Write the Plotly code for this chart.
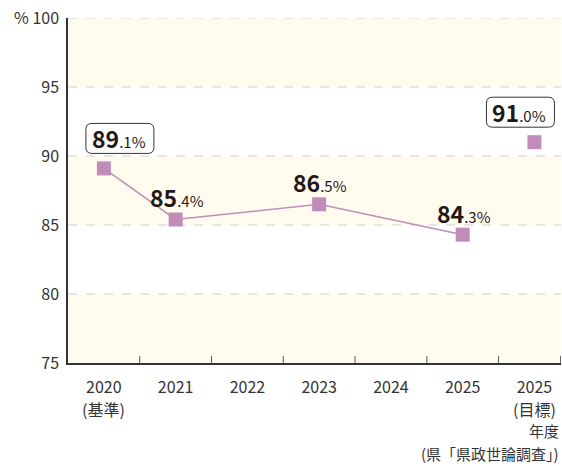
import plotly.graph_objects as go

categories = ["2020", "2021", "2022", "2023", "2024", "2025", "2025"]
category_notes = ["(基準)", "", "", "", "", "", "(目標)"]
actual_idx = [0, 1, 3, 5]
actual_vals = [89.1, 85.4, 86.5, 84.3]
target_idx = [6]
target_vals = [91.0]
y_ticks = [75, 80, 85, 90, 95, 100]
y_ticktext = ["75", "80", "85", "90", "95", "% 100"]

MARK = "#bf8db8"
BAND = "#fffcef"
FONT = "Noto Sans CJK JP"

fig = go.Figure()

fig.add_trace(go.Scatter(
    x=actual_idx, y=actual_vals, mode="lines+markers",
    line=dict(color=MARK, width=1.5),
    marker=dict(symbol="square", size=14, color=MARK),
    hoverinfo="skip", showlegend=False))
fig.add_trace(go.Scatter(
    x=target_idx, y=target_vals, mode="markers",
    marker=dict(symbol="square", size=14, color=MARK),
    hoverinfo="skip", showlegend=False))

XR = [-0.5, 6.37]
shapes = []
for lo, hi in [(95, 100), (85, 90), (75, 80)]:
    shapes.append(dict(type="rect", xref="paper", yref="y", x0=0, x1=1, y0=lo, y1=hi,
                       fillcolor=BAND, line=dict(width=0), layer="below"))
for v in [80, 85, 90, 95, 100]:
    shapes.append(dict(type="line", xref="paper", yref="y", x0=0, x1=1, y0=v, y1=v,
                       line=dict(color="#cfcfcf", width=1, dash="dash"), layer="below"))
for i in range(len(categories)):
    xt = i + 0.5 if i < len(categories) - 1 else XR[1] - 0.005
    shapes.append(dict(type="line", xref="x", yref="y", x0=xt, x1=xt,
                       ysizemode="pixel", yanchor=75, y0=0, y1=7,
                       line=dict(color="#555", width=1)))


def rounded_box(xc, yv, dx, dy, w, h, r):
    x0, x1 = dx - w / 2, dx + w / 2
    y0, y1 = dy - h / 2, dy + h / 2
    path = (f"M {x0+r},{y0} L {x1-r},{y0} Q {x1},{y0} {x1},{y0+r} "
            f"L {x1},{y1-r} Q {x1},{y1} {x1-r},{y1} L {x0+r},{y1} "
            f"Q {x0},{y1} {x0},{y1-r} L {x0},{y0+r} Q {x0},{y0} {x0+r},{y0} Z")
    return dict(type="path", xref="x", yref="y", xsizemode="pixel", ysizemode="pixel",
                xanchor=xc, yanchor=yv, path=path, fillcolor="white",
                line=dict(color="#333", width=1), layer="above")


def label(v):
    s = f"{v:.1f}"
    a, b = s.split(".")
    return f"<b>{a}</b><span style='font-size:15px'>.{b}%</span>"


annotations = []
boxed = {0: 16, 6: -14}
all_idx = actual_idx + target_idx
all_vals = actual_vals + target_vals
for i, v in zip(all_idx, all_vals):
    if i in boxed:
        dx = boxed[i]
        shapes.append(rounded_box(i, v, dx, 30, 68, 30, 6))
        annotations.append(dict(x=i, y=v, xref="x", yref="y", text=label(v), showarrow=False,
                                xshift=dx - 1, yshift=30, font=dict(size=23, color="#231815", family=FONT)))
    else:
        annotations.append(dict(x=i, y=v, xref="x", yref="y", text=label(v), showarrow=False,
                                xshift=1, yshift=22, font=dict(size=23, color="#231815", family=FONT)))

for i, note in enumerate(category_notes):
    if note:
        annotations.append(dict(x=i, y=0, xref="x", yref="paper", text=note, showarrow=False,
                                yanchor="middle", yshift=-46,
                                font=dict(size=16, color="#333", family=FONT)))

annotations.append(dict(x=1, y=-0.197, xref="paper", yref="paper", text="年度", showarrow=False,
                        xanchor="right", yanchor="middle", font=dict(size=15, color="#333", family=FONT)))
annotations.append(dict(x=1, y=-0.261, xref="paper", yref="paper", text="(県「県政世論調査」)",
                        showarrow=False, xanchor="right", yanchor="middle",
                        font=dict(size=15, color="#333", family=FONT)))

fig.update_layout(
    width=562, height=466,
    margin=dict(l=68, r=1, t=18, b=103),
    paper_bgcolor="white", plot_bgcolor="white",
    font=dict(family=FONT, size=16, color="#333"),
    shapes=shapes, annotations=annotations,
    xaxis=dict(range=XR, tickmode="array", tickvals=list(range(len(categories))),
               ticktext=categories, showgrid=False, zeroline=False,
               showline=True, linecolor="#333", linewidth=1.5, ticks="",
               ticklabelstandoff=9, tickfont=dict(size=16, color="#333")),
    yaxis=dict(range=[75, 100], tickmode="array", tickvals=y_ticks, ticktext=y_ticktext,
               showgrid=False, zeroline=False, showline=True, linecolor="#333", linewidth=1.5,
               ticks="", ticklabelstandoff=4, tickfont=dict(size=16, color="#333")),
)

fig.write_html("out.html", config={"displayModeBar": False},
               post_script="document.body.style.margin='0';document.body.style.overflow='hidden';")
